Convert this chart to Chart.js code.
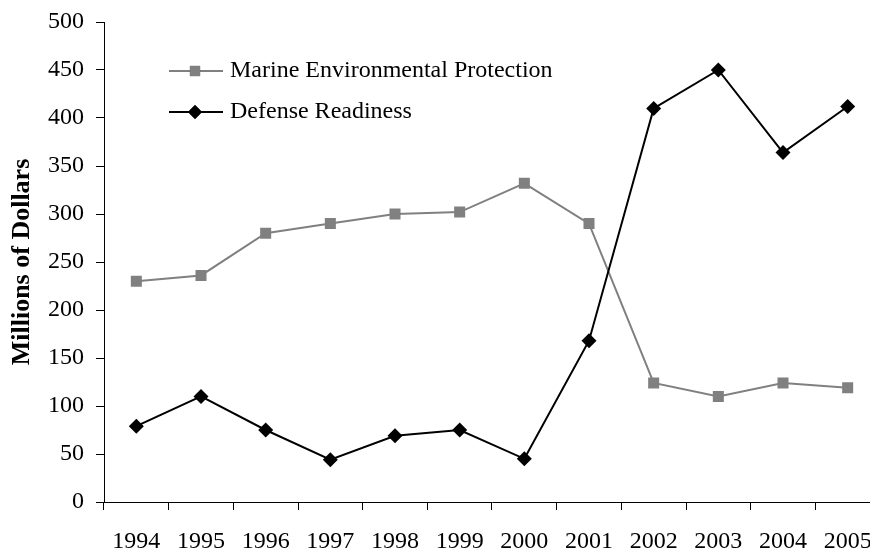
<!DOCTYPE html>
<html>
<head>
<meta charset="utf-8">
<script src="https://cdn.jsdelivr.net/npm/chart.js@4/dist/chart.umd.min.js"></script>
<style>
  html, body { margin: 0; padding: 0; background: #fff; overflow: hidden; width: 870px; height: 551px; }
  #wrap { position: relative; width: 880px; height: 551px; }
</style>
</head>
<body>
<div id="wrap"><canvas id="c" width="880" height="551"></canvas></div>
<script>
// Fiscal years on the category axis
const years = ['1994', '1995', '1996', '1997', '1998', '1999', '2000', '2001', '2002', '2003', '2004', '2005'];

// Spending by program, millions of dollars
const marineEnvironmentalProtection = [230, 236, 280, 290, 300, 302, 332, 290, 124, 110, 124, 119];
const defenseReadiness = [79, 110, 75, 44, 69, 75, 45, 168, 410, 450, 364, 412];

// Value axis range and step
const yMin = 0;
const yMax = 500;
const yStep = 50;

const serif = '"Liberation Serif", "Times New Roman", serif';
const GREY = '#808080';
const BLACK = '#000000';

// Legend drawn inside the plot area, upper left
const insideLegend = {
  id: 'insideLegend',
  afterDraw(chart) {
    const ctx = chart.ctx;
    const rows = [
      { ds: chart.data.datasets[0], y: 71 },
      { ds: chart.data.datasets[1], y: 112 }
    ];
    ctx.save();
    rows.forEach(r => {
      ctx.strokeStyle = r.ds.borderColor;
      ctx.lineWidth = r.ds.borderWidth;
      ctx.beginPath();
      ctx.moveTo(169, r.y);
      ctx.lineTo(223, r.y);
      ctx.stroke();
      Chart.helpers.drawPoint(ctx, {
        pointStyle: r.ds.pointStyle,
        radius: r.ds.legendRadius,
        borderWidth: 0
      }, 195, r.y);
      ctx.fillStyle = r.ds.pointBackgroundColor;
      ctx.fill();
      ctx.fillStyle = '#000';
      ctx.font = '24px ' + serif;
      ctx.textAlign = 'left';
      ctx.textBaseline = 'middle';
      ctx.fillText(r.ds.label, 230, r.y);
    });
    ctx.restore();
  }
};

new Chart(document.getElementById('c'), {
  type: 'line',
  data: {
    labels: years,
    datasets: [
      {
        label: 'Marine Environmental Protection',
        data: marineEnvironmentalProtection,
        borderColor: GREY,
        backgroundColor: GREY,
        pointBackgroundColor: GREY,
        pointBorderColor: GREY,
        borderWidth: 2,
        pointStyle: 'rect',
        pointRadius: 7.8,
        legendRadius: 7.2,
        pointBorderWidth: 0,
        tension: 0,
        order: 2
      },
      {
        label: 'Defense Readiness',
        data: defenseReadiness,
        borderColor: BLACK,
        backgroundColor: BLACK,
        pointBackgroundColor: BLACK,
        pointBorderColor: BLACK,
        borderWidth: 2,
        pointStyle: 'rectRot',
        pointRadius: 7.5,
        legendRadius: 7,
        pointBorderWidth: 0,
        tension: 0,
        order: 1
      }
    ]
  },
  options: {
    responsive: false,
    animation: false,
    layout: { autoPadding: false, padding: { top: 22, left: 0, right: 0, bottom: 0 } },
    plugins: {
      legend: { display: false },
      tooltip: { enabled: false }
    },
    scales: {
      x: {
        type: 'category',
        offset: true,
        grid: {
          offset: true,
          drawOnChartArea: false,
          drawTicks: true,
          tickLength: 8,
          color: BLACK,
          lineWidth: 1
        },
        border: { display: true, color: BLACK, width: 1 },
        ticks: {
          color: BLACK,
          font: { family: serif, size: 24 },
          padding: 17,
          maxRotation: 0,
          autoSkip: false
        },
        afterFit(scale) {
          scale.height = 49;
          scale.paddingLeft = 0;
          scale.paddingRight = 0;
        }
      },
      y: {
        min: yMin,
        max: yMax,
        grid: {
          drawOnChartArea: false,
          drawTicks: true,
          tickLength: 8,
          color: BLACK,
          lineWidth: 1
        },
        border: { display: true, color: BLACK, width: 1 },
        ticks: {
          stepSize: yStep,
          color: BLACK,
          font: { family: serif, size: 24 },
          padding: 12
        },
        title: {
          display: true,
          text: 'Millions of Dollars',
          color: BLACK,
          font: { family: serif, size: 26, weight: 'bold' },
          padding: { top: 7, bottom: 0 }
        },
        afterFit(scale) {
          scale.width = 104;
          scale.paddingTop = 0;
          scale.paddingBottom = 0;
        }
      }
    }
  },
  plugins: [insideLegend]
});
</script>
</body>
</html>
